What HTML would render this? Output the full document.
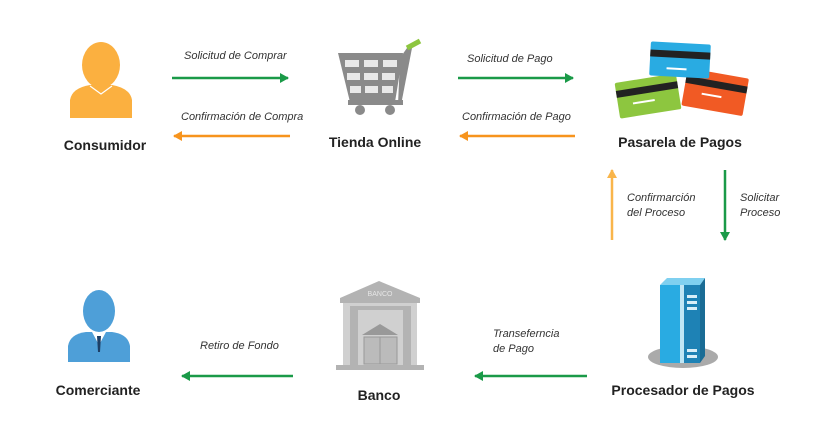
<!DOCTYPE html><html><head><meta charset="utf-8"><style>body{margin:0;background:#fff}svg{display:block}text{font-family:"Liberation Sans",sans-serif}.l{font-size:14px;font-weight:bold;fill:#222;text-anchor:middle}.s{font-size:11px;font-style:italic;fill:#333}</style></head><body>
<svg width="830" height="434" viewBox="0 0 830 434">
<defs>
<marker id="g" markerWidth="9" markerHeight="10" refX="8" refY="5" orient="auto" markerUnits="userSpaceOnUse"><path d="M0,0L9,5L0,10z" fill="#1a9a48"/></marker>
<marker id="o" markerWidth="9" markerHeight="10" refX="8" refY="5" orient="auto" markerUnits="userSpaceOnUse"><path d="M0,0L9,5L0,10z" fill="#f7941d"/></marker>
<marker id="y" markerWidth="9" markerHeight="10" refX="8" refY="5" orient="auto" markerUnits="userSpaceOnUse"><path d="M0,0L9,5L0,10z" fill="#f9b54a"/></marker>
</defs>
<!-- consumidor -->
<g fill="#fbb040"><ellipse cx="101" cy="65" rx="19" ry="23"/><path d="M70,118 L70,100 Q72,88 90,85 L112,85 Q130,88 132,100 L132,118z"/></g>
<path d="M90,86 L101,94 L112,86" stroke="#fff" fill="none" stroke-width="1.2"/>
<text class="l" x="105" y="150">Consumidor</text>
<line x1="172" y1="78" x2="288" y2="78" stroke="#1a9a48" stroke-width="2.5" marker-end="url(#g)"/>
<line x1="290" y1="136" x2="174" y2="136" stroke="#f7941d" stroke-width="2.5" marker-end="url(#o)"/>
<text class="s" x="184" y="59">Solicitud de Comprar</text>
<text class="s" x="181" y="120">Confirmación de Compra</text>
<!-- cart -->
<g fill="#8a8a8a"><path d="M338,53 L403,53 L395,102 L350,102z"/><path d="M400,58 L407,48 L412,48 L401,105 L398,105z"/><rect x="348" y="100" width="55" height="5"/><circle cx="360" cy="110" r="5"/><circle cx="390" cy="110" r="5"/></g>
<path d="M407,48 L420,41" stroke="#8dc63f" stroke-width="5"/>
<g fill="#e8e8e8"><rect x="345" y="60" width="14" height="7"/><rect x="364" y="60" width="14" height="7"/><rect x="383" y="60" width="14" height="7"/><rect x="347" y="73" width="13" height="7"/><rect x="364" y="73" width="14" height="7"/><rect x="382" y="73" width="13" height="7"/><rect x="350" y="86" width="11" height="7"/><rect x="365" y="86" width="13" height="7"/><rect x="382" y="86" width="11" height="7"/></g>
<text class="l" x="375" y="147">Tienda Online</text>
<line x1="458" y1="78" x2="573" y2="78" stroke="#1a9a48" stroke-width="2.5" marker-end="url(#g)"/>
<line x1="575" y1="136" x2="460" y2="136" stroke="#f7941d" stroke-width="2.5" marker-end="url(#o)"/>
<text class="s" x="467" y="62">Solicitud de Pago</text>
<text class="s" x="462" y="120">Confirmación de Pago</text>
<!-- cards -->
<g transform="rotate(-9 648 96)"><rect x="617" y="78" width="62" height="36" rx="2" fill="#8dc63f"/><rect x="617" y="86" width="62" height="7" fill="#222"/><rect x="632" y="100" width="22" height="2" fill="#fff"/></g>
<g transform="rotate(10 715 93)"><rect x="684" y="73" width="62" height="38" rx="2" fill="#f15a24"/><rect x="684" y="81" width="62" height="7" fill="#222"/><rect x="702" y="95" width="20" height="2" fill="#fff"/></g>
<g transform="rotate(3 680 60)"><rect x="650" y="43" width="60" height="34" rx="2" fill="#29abe2"/><rect x="650" y="51" width="60" height="7" fill="#222"/><rect x="667" y="68" width="20" height="2" fill="#fff"/></g>
<text class="l" x="680" y="147">Pasarela de Pagos</text>
<line x1="612" y1="240" x2="612" y2="170" stroke="#f9b54a" stroke-width="2.5" marker-end="url(#y)"/>
<line x1="725" y1="170" x2="725" y2="240" stroke="#1a9a48" stroke-width="2.5" marker-end="url(#g)"/>
<text class="s" x="627" y="201">Confirmarción</text><text class="s" x="627" y="216">del Proceso</text>
<text class="s" x="740" y="201">Solicitar</text><text class="s" x="740" y="216">Proceso</text>
<!-- server -->
<ellipse cx="683" cy="357" rx="35" ry="11" fill="#aaa"/>
<path d="M660,285 L667,278 L705,278 L700,285z" fill="#7fd0f0"/>
<rect x="660" y="285" width="20" height="78" fill="#29abe2"/><rect x="680" y="285" width="4" height="78" fill="#bfe6f5"/><rect x="684" y="285" width="16" height="78" fill="#1e82b5"/>
<path d="M700,285 L705,278 L705,356 L700,363z" fill="#1a6c95"/>
<g fill="#d8eef8"><rect x="687" y="295" width="10" height="3"/><rect x="687" y="301" width="10" height="3"/><rect x="687" y="307" width="10" height="3"/><rect x="687" y="349" width="10" height="3"/><rect x="687" y="355" width="10" height="3"/></g>
<text class="l" x="683" y="395">Procesador de Pagos</text>
<line x1="587" y1="376" x2="475" y2="376" stroke="#1a9a48" stroke-width="2.5" marker-end="url(#g)"/>
<text class="s" x="493" y="337">Transeferncia</text><text class="s" x="493" y="352">de Pago</text>
<!-- bank -->
<path d="M340,298 L379,281 L420,298z" fill="#b3b3b3"/>
<text x="380" y="296" font-size="7" fill="#e6e6e6" text-anchor="middle">BANCO</text>
<rect x="340" y="298" width="80" height="5" fill="#b3b3b3"/>
<rect x="343" y="303" width="74" height="62" fill="#d0d0d0"/>
<rect x="350" y="306" width="8" height="59" fill="#b3b3b3"/><rect x="403" y="306" width="8" height="59" fill="#b3b3b3"/>
<rect x="358" y="306" width="45" height="4" fill="#b3b3b3"/>
<path d="M362,335 L380,324 L398,335z" fill="#999"/>
<rect x="364" y="337" width="33" height="27" fill="#bbb" stroke="#999"/><line x1="380" y1="337" x2="380" y2="364" stroke="#999"/>
<rect x="336" y="365" width="88" height="5" fill="#b3b3b3"/>
<text class="l" x="379" y="400">Banco</text>
<line x1="293" y1="376" x2="182" y2="376" stroke="#1a9a48" stroke-width="2.5" marker-end="url(#g)"/>
<text class="s" x="200" y="349">Retiro de Fondo</text>
<!-- comerciante -->
<g fill="#4e9fd8"><ellipse cx="99" cy="311" rx="16" ry="21"/><path d="M68,362 L68,346 Q70,334 86,332 L112,332 Q128,334 130,346 L130,362z"/></g>
<path d="M92,332 L99,345 L106,332z" fill="#fff"/><path d="M97,336 L101,336 L100,352 L98,352z" fill="#1d3f66"/>
<text class="l" x="98" y="395">Comerciante</text>
</svg></body></html>
